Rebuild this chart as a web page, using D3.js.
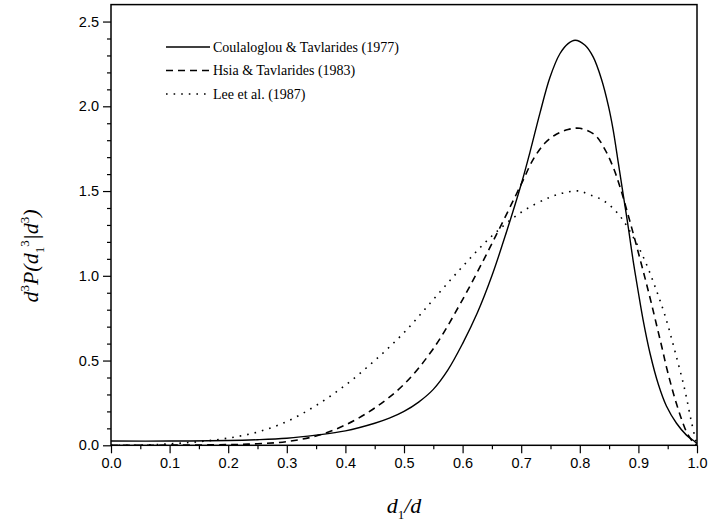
<!DOCTYPE html>
<html>
<head>
<meta charset="utf-8">
<script src="https://cdn.jsdelivr.net/npm/d3@7"></script>
<style>
  html, body { margin: 0; padding: 0; background: #fff; }
  svg { display: block; }
</style>
</head>
<body>
<svg id="chart" width="709" height="525"></svg>
<script>
// ---- data ----
const seriesNames = ["Coulaloglou & Tavlarides (1977)", "Hsia & Tavlarides (1983)", "Lee et al. (1987)"];

const coulX = [0, 0.1, 0.2, 0.25, 0.3, 0.35, 0.4, 0.45, 0.475, 0.5, 0.525, 0.55, 0.575, 0.6, 0.625, 0.65, 0.675, 0.7, 0.715, 0.732, 0.749, 0.766, 0.78, 0.792, 0.809, 0.823, 0.837, 0.849, 0.857, 0.866, 0.874, 0.883, 0.891, 0.9, 0.908, 0.92, 0.934, 0.948, 0.965, 0.982, 0.997, 1.0];
const coulY = [0.025, 0.025, 0.028, 0.033, 0.042, 0.06, 0.085, 0.13, 0.16, 0.2, 0.255, 0.33, 0.445, 0.6, 0.78, 1.0, 1.26, 1.54, 1.73, 1.96, 2.17, 2.31, 2.37, 2.39, 2.36, 2.29, 2.16, 2.0, 1.86, 1.66, 1.48, 1.28, 1.09, 0.9, 0.74, 0.54, 0.36, 0.23, 0.13, 0.06, 0.02, 0.01];

const hsiaX = [0, 0.1, 0.2, 0.25, 0.3, 0.35, 0.4, 0.45, 0.5, 0.55, 0.6, 0.65, 0.7, 0.721, 0.741, 0.76, 0.78, 0.8, 0.826, 0.843, 0.857, 0.869, 0.888, 0.905, 0.914, 0.922, 0.931, 0.94, 0.948, 0.957, 0.965, 0.974, 0.982, 0.993, 1.0];
const hsiaY = [0.0, 0.001, 0.004, 0.009, 0.022, 0.055, 0.12, 0.22, 0.36, 0.57, 0.86, 1.19, 1.54, 1.69, 1.785, 1.835, 1.863, 1.87, 1.83, 1.745, 1.64, 1.52, 1.29, 1.07, 0.95, 0.84, 0.71, 0.58, 0.46, 0.34, 0.245, 0.15, 0.08, 0.02, 0.0];

const leeX = [0, 0.06, 0.106, 0.152, 0.199, 0.249, 0.3, 0.35, 0.4, 0.45, 0.5, 0.55, 0.6, 0.65, 0.7, 0.75, 0.78, 0.8, 0.812, 0.842, 0.869, 0.894, 0.911, 0.928, 0.945, 0.962, 0.979, 0.991, 1.0];
const leeY = [0.0, 0.002, 0.01, 0.022, 0.042, 0.077, 0.14, 0.235, 0.355, 0.5, 0.665, 0.86, 1.055, 1.235, 1.375, 1.465, 1.495, 1.5, 1.485, 1.44, 1.35, 1.21, 1.09, 0.94, 0.77, 0.56, 0.33, 0.13, 0.0];

const xTicks = [0.0, 0.1, 0.2, 0.3, 0.4, 0.5, 0.6, 0.7, 0.8, 0.9, 1.0];
const xMinorTicks = [0.05, 0.15, 0.25, 0.35, 0.45, 0.55, 0.65, 0.75, 0.85, 0.95];
const yTicks = [0.0, 0.5, 1.0, 1.5, 2.0, 2.5];
const yMinorTicks = [0.1, 0.2, 0.3, 0.4, 0.6, 0.7, 0.8, 0.9, 1.1, 1.2, 1.3, 1.4, 1.6, 1.7, 1.8, 1.9, 2.1, 2.2, 2.3, 2.4];

// ---- layout ----
const svg = d3.select("#chart");
const pLeft = 111, pRight = 697, pTop = 4.6, pBottom = 445.3;
const x = d3.scaleLinear().domain([0, 1]).range([pLeft, pRight]);
const y = d3.scaleLinear().domain([0, 2.6]).range([pBottom, pTop]);

const series = [
  { name: seriesNames[0], xs: coulX, ys: coulY, dash: null },
  { name: seriesNames[1], xs: hsiaX, ys: hsiaY, dash: "7,5" },
  { name: seriesNames[2], xs: leeX, ys: leeY, dash: "1.6,6" }
];

const line = d3.line().x(d => x(d[0])).y(d => y(d[1])).curve(d3.curveCatmullRom.alpha(0.5));

svg.append("clipPath").attr("id", "clip")
  .append("rect").attr("x", pLeft).attr("y", pTop).attr("width", pRight - pLeft).attr("height", pBottom - pTop);

const plot = svg.append("g").attr("clip-path", "url(#clip)");
series.forEach(s => {
  const pts = s.xs.map((v, i) => [v, s.ys[i]]);
  plot.append("path")
    .attr("d", line(pts))
    .attr("fill", "none")
    .attr("stroke", "#000")
    .attr("stroke-width", s.dash ? 1.6 : 1.4)
    .attr("stroke-dasharray", s.dash);
});

// frame
svg.append("rect").attr("x", pLeft).attr("y", pTop).attr("width", pRight - pLeft).attr("height", pBottom - pTop)
  .attr("fill", "none").attr("stroke", "#000").attr("stroke-width", 1.5);

// axes
const tickFont = "'Liberation Sans', Arial, sans-serif";
const xAxis = d3.axisBottom(x).tickValues(xTicks).tickSize(8).tickPadding(4).tickFormat(d3.format(".1f"));
const xMinor = d3.axisBottom(x).tickValues(xMinorTicks).tickSize(4).tickFormat("");
const yAxis = d3.axisLeft(y).tickValues(yTicks).tickSize(8).tickPadding(4).tickFormat(d3.format(".1f"));
const yMinor = d3.axisLeft(y).tickValues(yMinorTicks).tickSize(4).tickFormat("");

function styleAxis(g) {
  g.select(".domain").remove();
  g.selectAll(".tick line").attr("stroke", "#000").attr("stroke-width", 1.2);
  g.selectAll(".tick text").attr("fill", "#000").style("font-family", tickFont).style("font-size", "14.5px");
}
svg.append("g").attr("transform", `translate(0,${pBottom})`).call(xAxis).call(styleAxis);
svg.append("g").attr("transform", `translate(0,${pBottom})`).call(xMinor).call(styleAxis);
svg.append("g").attr("transform", `translate(${pLeft},0)`).call(yAxis).call(styleAxis);
svg.append("g").attr("transform", `translate(${pLeft},0)`).call(yMinor).call(styleAxis);

// axis titles
const serif = "'Liberation Serif', 'Times New Roman', serif";
const xt = svg.append("text")
  .attr("x", (pLeft + pRight) / 2).attr("y", 513)
  .attr("text-anchor", "middle")
  .style("font-family", serif).style("font-size", "22px").style("font-style", "italic");
xt.append("tspan").text("d");
xt.append("tspan").attr("dy", 6).style("font-size", "13px").style("font-style", "normal").text("1");
xt.append("tspan").attr("dy", -6).text("/d");

const yt = svg.append("text")
  .attr("transform", `translate(38,256) rotate(-90)`)
  .attr("text-anchor", "middle")
  .style("font-family", serif).style("font-size", "22px").style("font-style", "italic");
yt.append("tspan").text("d");
yt.append("tspan").attr("dy", -9).style("font-size", "13px").style("font-style", "normal").text("3");
yt.append("tspan").attr("dy", 9).text("P(d");
yt.append("tspan").attr("dy", 6).style("font-size", "13px").style("font-style", "normal").text("1");
yt.append("tspan").attr("dy", -15).style("font-size", "13px").style("font-style", "normal").text("3");
yt.append("tspan").attr("dy", 9).text("|d");
yt.append("tspan").attr("dy", -9).style("font-size", "13px").style("font-style", "normal").text("3");
yt.append("tspan").attr("dy", 9).text(")");

// legend
const legendY = [47, 70.5, 94];
const lg = svg.append("g");
series.forEach((s, i) => {
  lg.append("line")
    .attr("x1", 166).attr("x2", 210)
    .attr("y1", legendY[i]).attr("y2", legendY[i])
    .attr("stroke", "#000").attr("stroke-width", s.dash ? 1.6 : 1.4)
    .attr("stroke-dasharray", s.dash);
  lg.append("text")
    .attr("x", 213).attr("y", legendY[i]).attr("dy", "0.35em")
    .style("font-family", serif).style("font-size", "14px")
    .text(s.name);
});
</script>
</body>
</html>
